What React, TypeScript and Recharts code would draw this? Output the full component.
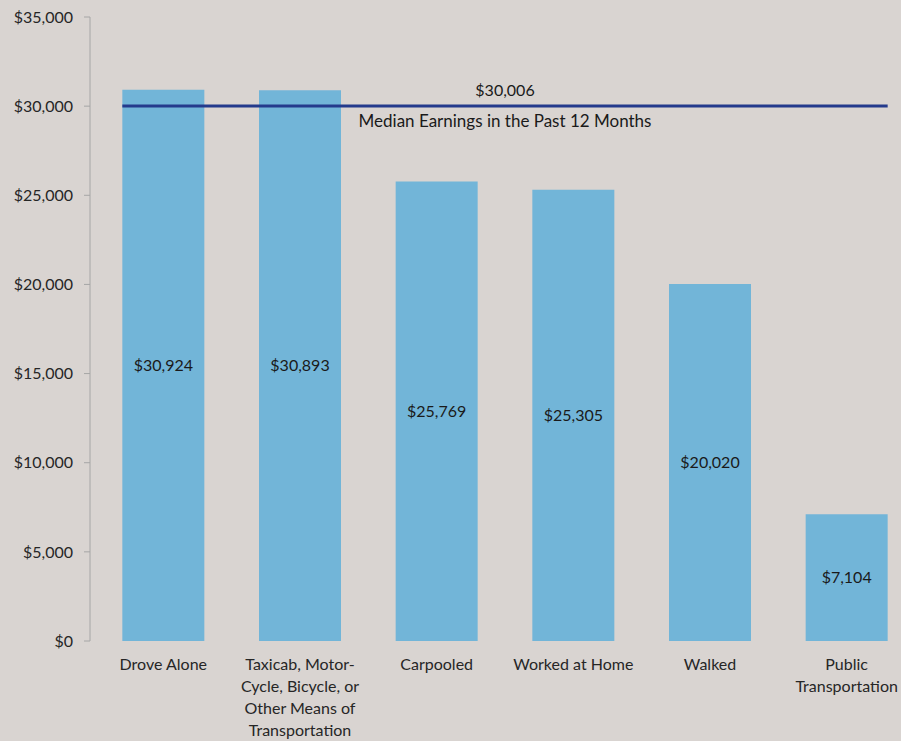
import React from 'react'
import {
    ComposedChart, Bar, XAxis, YAxis, ReferenceLine, LabelList
} from 'recharts'

// commute mode -> median earnings
const categories = [
    'Drove Alone',
    'Taxicab, Motor-\nCycle, Bicycle, or\nOther Means of\nTransportation',
    'Carpooled',
    'Worked at Home',
    'Walked',
    'Public\nTransportation',
]
const earnings = [30924, 30893, 25769, 25305, 20020, 7104]
const yTicks = [0, 5000, 10000, 15000, 20000, 25000, 30000, 35000]
const medianEarnings = 30006
const medianLabel = 'Median Earnings in the Past 12 Months'

const data = categories.map((name, i) => ({ name, value: earnings[i] }))

const FONT = 'Lato, "Open Sans", sans-serif'
const FS = 16
const BG = '#d9d4d1'
const BAR = '#72b5d8'
const NAVY = '#243a8c'
const PAD_LEFT = 5
const GAP = 0.2 // barCategoryGap as a fraction of the band

const money = (v: number) => `$${v.toLocaleString('en-US')}`

function CategoryTick(props: any) {
    const { x, y, payload } = props
    const lines = String(payload.value).split('\n')
    return (
        <text x={x} y={y} textAnchor="middle" fill="#262626" fontSize={FS} fontFamily={FONT}>
            {lines.map((line, i) => (
                <tspan key={i} x={x} dy={i === 0 ? 21 : 22}>{line}</tspan>
            ))}
        </text>
    )
}

// median line runs from the left edge of the first bar to the right edge of the last
function MedianLine(props: any) {
    const { x1, x2, y1 } = props
    const left = Math.min(x1, x2)
    const right = Math.max(x1, x2)
    const band = (right - left - PAD_LEFT) / categories.length
    return (
        <line
            x1={left + PAD_LEFT + band * GAP}
            x2={right - band * GAP}
            y1={y1}
            y2={y1}
            stroke={NAVY}
            strokeWidth={3}
        />
    )
}

function MedianLabel(props: any) {
    const { viewBox } = props
    const cx = viewBox.x + (viewBox.width + PAD_LEFT) / 2
    const cy = viewBox.y
    return (
        <g fontFamily={FONT} fill="#1a1a1a" textAnchor="middle">
            <text x={cx} y={cy - 10} fontSize={FS}>{money(medianEarnings)}</text>
            <text x={cx} y={cy + 21} fontSize={17}>{medianLabel}</text>
        </g>
    )
}

export default function App() {
    return (
        <div style={{
            position: 'absolute', left: 0, top: 0, width: 901, height: 741,
            overflow: 'hidden', background: BG
        }}>
            <ComposedChart
                width={915}
                height={741}
                data={data}
                margin={{ top: 17, right: 0, left: 0, bottom: 70 }}
                barCategoryGap={`${GAP * 100}%`}
            >
                <XAxis
                    dataKey="name"
                    height={30}
                    axisLine={false}
                    tickLine={false}
                    interval={0}
                    padding={{ left: PAD_LEFT, right: 0 }}
                    tick={<CategoryTick />}
                />
                <YAxis
                    width={90}
                    domain={[0, 35000]}
                    ticks={yTicks}
                    tickFormatter={money}
                    stroke="#a6a6a6"
                    tickSize={6}
                    tickMargin={11}
                    tick={{ fill: '#262626', fontSize: FS, fontFamily: FONT }}
                />
                <Bar dataKey="value" fill={BAR} isAnimationActive={false}>
                    <LabelList
                        dataKey="value"
                        position="center"
                        formatter={(v: any) => money(Number(v))}
                        fill="#1a1a1a"
                        fontSize={FS}
                        fontFamily={FONT}
                    />
                </Bar>
                <ReferenceLine
                    y={medianEarnings}
                    ifOverflow="visible"
                    shape={(p: any) => <MedianLine {...p} />}
                    label={<MedianLabel />}
                />
            </ComposedChart>
        </div>
    )
}
